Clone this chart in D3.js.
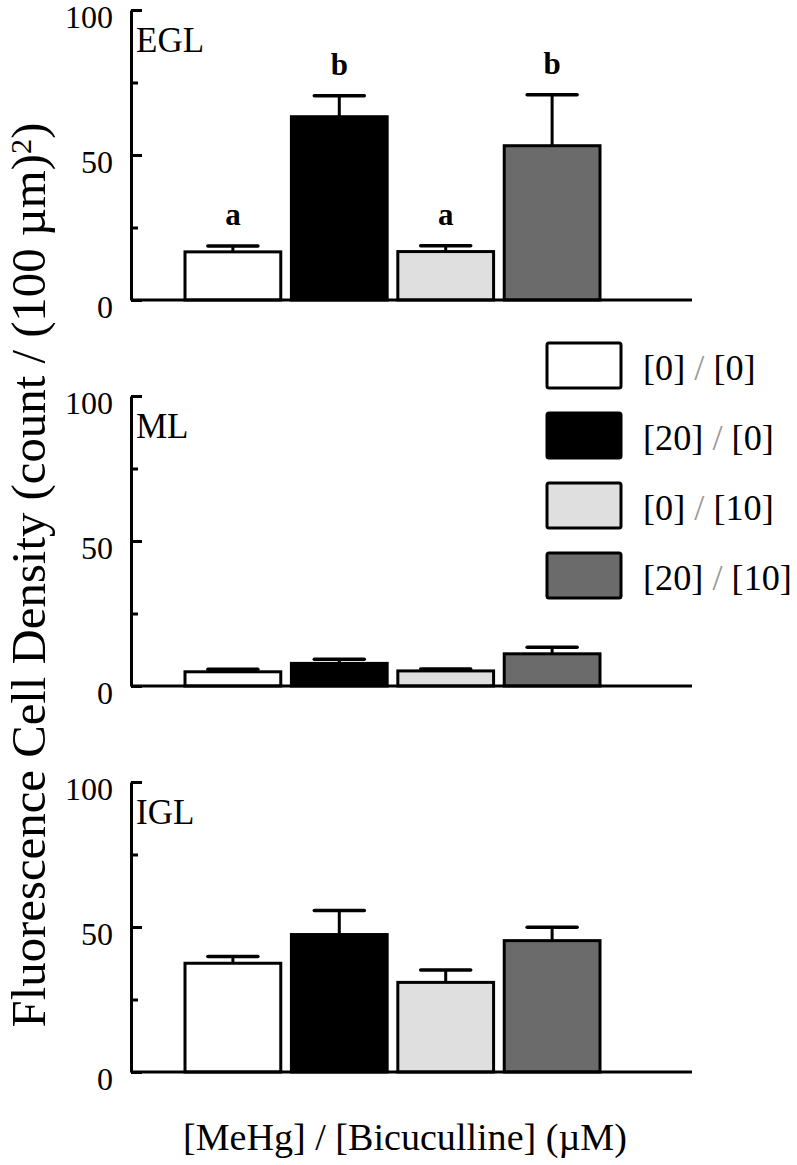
<!DOCTYPE html>
<html>
<head>
<meta charset="utf-8">
<script src="https://cdn.jsdelivr.net/npm/d3@7"></script>
<style>
  body { margin: 0; background: #fff; }
  svg text { font-family: "Liberation Serif", "Times New Roman", serif; }
</style>
</head>
<body>
<svg id="chart" width="797" height="1165"></svg>
<script>
// data
var groups = ['[0] / [0]', '[20] / [0]', '[0] / [10]', '[20] / [10]']
var fills = ['#ffffff', '#000000', '#dfdfdf', '#6b6b6b']
var layers = ['EGL', 'ML', 'IGL']
var eglMean = [16.6, 63.2, 16.7, 53.2]
var eglErr = [2.0, 7.2, 2.0, 17.6]
var mlMean = [4.9, 7.8, 5.2, 11.1]
var mlErr = [0.9, 1.4, 0.7, 2.3]
var iglMean = [37.5, 47.4, 30.9, 45.3]
var iglErr = [2.3, 8.3, 4.3, 4.6]
var eglLetters = ['a', 'b', 'a', 'b']
var yTicks = [0, 25, 50, 75, 100]
var yLabelTicks = [0, 50, 100]

var means = [eglMean, mlMean, iglMean]
var errs = [eglErr, mlErr, iglErr]
var letters = [eglLetters, null, null]

var svg = d3.select('#chart')

var axisX = 131
var axisEnd = 692
var panelTop = 10
var panelH = 290
var panelStep = 386

var x = d3.scaleBand()
    .domain(groups)
    .range([185, 600])
    .paddingInner(0.1)
    .paddingOuter(0)

var color = d3.scaleOrdinal().domain(groups).range(fills)

// shrink/grow a text's font so it spans the given width
function fitText (sel, width) {
  var node = sel.node()
  var size = parseFloat(sel.style('font-size'))
  var len = node.getComputedTextLength()
  sel.style('font-size', (size * width / len) + 'px')
}

layers.forEach(function (name, p) {
  var top = panelTop + p * panelStep
  var y = d3.scaleLinear().domain([0, 100]).range([top + panelH, top])

  var g = svg.append('g').classed('panel', true)

  var rows = groups.map(function (grp, i) {
    return {group: grp, mean: means[p][i], err: errs[p][i], letter: letters[p] ? letters[p][i] : null}
  })

  /*
      --------------------------------------
      Bars and error bars
  */
  g.selectAll('.err')
    .data(rows)
    .enter().append('g')
    .classed('err', true)
    .each(function (d) {
      var e = d3.select(this)
      var cx = x(d.group) + x.bandwidth() / 2
      e.append('line')
        .attr('x1', cx).attr('x2', cx)
        .attr('y1', y(d.mean)).attr('y2', y(d.mean + d.err))
        .attr('stroke', '#000').attr('stroke-width', 3)
      e.append('line')
        .attr('x1', cx - 25).attr('x2', cx + 25)
        .attr('y1', y(d.mean + d.err)).attr('y2', y(d.mean + d.err))
        .attr('stroke', '#000').attr('stroke-width', 3.5)
        .attr('stroke-linecap', 'round')
    })

  g.selectAll('.bar')
    .data(rows)
    .enter().append('rect')
    .classed('bar', true)
    .attr('x', d => x(d.group))
    .attr('width', x.bandwidth())
    .attr('y', d => y(d.mean))
    .attr('height', d => y(0) - y(d.mean))
    .attr('fill', d => color(d.group))
    .attr('stroke', '#000')
    .attr('stroke-width', 3)

  g.selectAll('.letter')
    .data(rows.filter(d => d.letter))
    .enter().append('text')
    .classed('letter', true)
    .attr('x', d => x(d.group) + x.bandwidth() / 2)
    .attr('y', d => y(d.mean + d.err) - 21)
    .attr('text-anchor', 'middle')
    .style('font-size', '31px')
    .style('font-weight', 'bold')
    .text(d => d.letter)

  /*
      --------------------------------------
      Axes
  */
  g.append('line')
    .attr('x1', axisX).attr('x2', axisEnd)
    .attr('y1', y(0)).attr('y2', y(0))
    .attr('stroke', '#000').attr('stroke-width', 3)

  var yAxis = d3.axisLeft(y)
    .tickValues(yTicks)
    .tickSize(-10)
    .tickSizeOuter(0)
    .tickPadding(18)
    .tickFormat(d => yLabelTicks.indexOf(d) >= 0 ? d : '')

  var ax = g.append('g')
    .attr('transform', `translate(${axisX},0)`)
    .call(yAxis)
    .attr('font-family', null)

  ax.select('.domain').attr('stroke', '#000').attr('stroke-width', 3)
  ax.selectAll('.tick line')
    .attr('stroke', '#000').attr('stroke-width', 3)
    .attr('x2', d => yLabelTicks.indexOf(d) >= 0 ? 11 : 7)
  ax.selectAll('.tick text')
    .attr('dy', null)
    .attr('y', 17)
    .style('font-size', '32px')
    .attr('fill', '#000')

  g.append('text')
    .attr('x', axisX + 5)
    .attr('y', top + 42)
    .style('font-size', '35px')
    .text(name)
})

/*
    --------------------------------------
    Legend
*/
var legend = svg.append('g')
  .attr('transform', 'translate(547,343)')

var li = legend.selectAll('.item')
  .data(groups)
  .enter().append('g')
  .classed('item', true)
  .attr('transform', (d, i) => `translate(0,${i * 70})`)

li.append('rect')
  .attr('width', 74)
  .attr('height', 45)
  .attr('rx', 2)
  .attr('fill', d => color(d))
  .attr('stroke', '#000')
  .attr('stroke-width', 3)

var ltext = li.append('text')
  .attr('x', 96)
  .attr('y', 37)
  .style('font-size', '36px')
  .each(function (d) {
    var parts = d.split(' / ')
    var t = d3.select(this)
    t.append('tspan').text(parts[0])
    t.append('tspan').attr('fill', '#999').text(' / ')
    t.append('tspan').text(parts[1])
  })

// size legend font so the longest label spans ~149px
var longest = d3.max(ltext.nodes(), n => n.getComputedTextLength())
ltext.style('font-size', (36 * 149 / longest) + 'px')

/*
    --------------------------------------
    Axis titles
*/
var ytitle = svg.append('text')
  .attr('transform', 'translate(45,575) rotate(-90)')
  .attr('text-anchor', 'middle')
  .style('font-size', '43px')

ytitle.append('tspan').text('Fluorescence Cell Density (count / (100 \u00b5m)')
ytitle.append('tspan')
  .attr('dy', '-0.45em')
  .style('font-size', '0.62em')
  .text('2')
ytitle.append('tspan')
  .attr('dy', '0.28em')
  .text(')')

ytitle.call(fitText, 905)

svg.append('text')
  .attr('x', 405)
  .attr('y', 1150)
  .attr('text-anchor', 'middle')
  .style('font-size', '33px')
  .text('[MeHg] / [Bicuculline] (\u00b5M)')
  .call(fitText, 444)
</script>
</body>
</html>
